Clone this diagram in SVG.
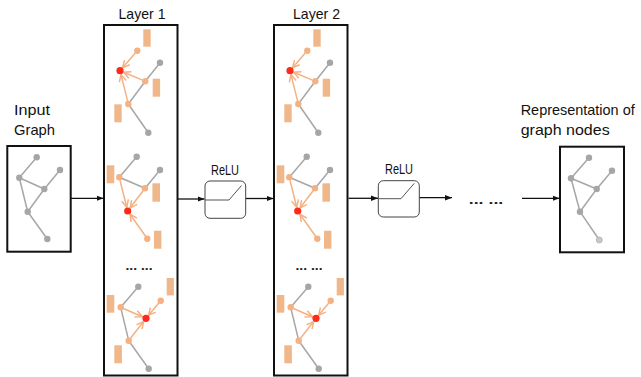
<svg xmlns="http://www.w3.org/2000/svg" width="641" height="377" viewBox="0 0 641 377">
  <style>
    .lbl { font-family: "Liberation Sans", Arial, sans-serif; font-size: 14.5px; fill: #111; }
    .dots { font-family: "Liberation Sans", sans-serif; font-weight: bold; font-size: 13px; fill: #222; }
    .frame { fill: #fff; stroke: #111; stroke-width: 2; }
    .gedge { stroke: #a6a6a6; stroke-width: 1.5; fill: none; }
    .gnode { fill: #a6a6a6; }
    .onode { fill: #f4b183; }
    .rnode { fill: #ff2a1a; }
    .feat { fill: #f0b88a; }
    .msg { stroke: #f4b183; stroke-width: 1.5; fill: none; marker-end: url(#open); }
    .link { stroke: #111; stroke-width: 1.3; fill: none; marker-end: url(#solid); }
    .relu { fill: #fff; stroke: #444; stroke-width: 1; }
    .curve { fill: none; stroke: #555; stroke-width: 1; }
  </style>
  <defs>
    <marker id="open" markerUnits="userSpaceOnUse" markerWidth="10" markerHeight="10" viewBox="0 0 10 10" refX="9" refY="5" orient="auto">
      <polyline points="2,1.5 9,5 2,8.5" fill="none" stroke="#f4b183" stroke-width="1.5"/>
    </marker>
    <marker id="solid" markerUnits="userSpaceOnUse" markerWidth="7" markerHeight="7" viewBox="0 0 7 7" refX="7" refY="3.5" orient="auto">
      <path d="M0,0.8 L7,3.5 L0,6.2 Z" fill="#111"/>
    </marker>
    <!-- one layer column: three neighbourhood-aggregation snapshots -->
    <g id="layer-body">
      <!-- snapshot 1: target node top-left -->
      <rect class="feat" x="143.3" y="29.3" width="7.4" height="17.4"/>
      <rect class="feat" x="152.7" y="78.7" width="7.4" height="18"/>
      <rect class="feat" x="114.3" y="104.3" width="7.4" height="18"/>
      <line class="gedge" x1="160" y1="62.7" x2="145.3" y2="81.3"/>
      <line class="gedge" x1="145.3" y1="81.3" x2="128.3" y2="104"/>
      <line class="gedge" x1="128.3" y1="104" x2="148.3" y2="132.7"/>
      <line class="msg" x1="135.3" y1="53" x2="122.6" y2="67.7"/>
      <line class="msg" x1="142.5" y1="80.1" x2="123.7" y2="72.2"/>
      <line class="msg" x1="127.6" y1="101.1" x2="121" y2="74.6"/>
      <circle class="onode" cx="137.3" cy="50.7" r="3.2"/>
      <circle class="gnode" cx="160" cy="62.7" r="3.2"/>
      <circle class="onode" cx="145.3" cy="81.3" r="3.2"/>
      <circle class="onode" cx="128.3" cy="104" r="3.2"/>
      <circle class="gnode" cx="148.3" cy="132.7" r="3.2"/>
      <circle class="rnode" cx="120" cy="70.7" r="3.6"/>

      <!-- snapshot 2: target node lower-middle -->
      <rect class="feat" x="106.7" y="165.3" width="7.6" height="18"/>
      <rect class="feat" x="152.4" y="183.3" width="7.6" height="18.4"/>
      <rect class="feat" x="154" y="230.7" width="7.4" height="18"/>
      <line class="gedge" x1="136.7" y1="156.7" x2="119.3" y2="177.3"/>
      <line class="gedge" x1="119.3" y1="177.3" x2="145" y2="188.3"/>
      <line class="gedge" x1="160" y1="170" x2="145" y2="188.3"/>
      <line class="msg" x1="120" y1="180.2" x2="126.7" y2="207.1"/>
      <line class="msg" x1="143.2" y1="190.7" x2="130.1" y2="207.8"/>
      <line class="msg" x1="145.6" y1="236.2" x2="130" y2="214.3"/>
      <circle class="gnode" cx="136.7" cy="156.7" r="3.2"/>
      <circle class="gnode" cx="160" cy="170" r="3.2"/>
      <circle class="onode" cx="119.3" cy="177.3" r="3.2"/>
      <circle class="onode" cx="145" cy="188.3" r="3.2"/>
      <circle class="onode" cx="147.3" cy="238.7" r="3.2"/>
      <circle class="rnode" cx="127.7" cy="211" r="3.6"/>

      <text class="dots" x="139" y="270" text-anchor="middle" textLength="27" lengthAdjust="spacingAndGlyphs">... ...</text>

      <!-- snapshot 3: target node right-middle -->
      <rect class="feat" x="166.7" y="278" width="7.2" height="17.4"/>
      <rect class="feat" x="106.7" y="295" width="7.6" height="17.7"/>
      <rect class="feat" x="114.3" y="345.3" width="7.6" height="18"/>
      <line class="gedge" x1="138.3" y1="286.7" x2="120.7" y2="307.3"/>
      <line class="gedge" x1="120.7" y1="307.3" x2="128.7" y2="340.7"/>
      <line class="gedge" x1="128.7" y1="340.7" x2="148.7" y2="368.7"/>
      <line class="msg" x1="123.5" y1="308.5" x2="142.3" y2="316.7"/>
      <line class="msg" x1="158.8" y1="303" x2="148.6" y2="315.2"/>
      <line class="msg" x1="130.5" y1="338.3" x2="143.6" y2="321.5"/>
      <circle class="gnode" cx="138.3" cy="286.7" r="3.2"/>
      <circle class="onode" cx="160.7" cy="300.7" r="3.2"/>
      <circle class="onode" cx="120.7" cy="307.3" r="3.2"/>
      <circle class="onode" cx="128.7" cy="340.7" r="3.2"/>
      <circle class="gnode" cx="148.7" cy="368.7" r="3.2"/>
      <circle class="rnode" cx="146" cy="318.3" r="3.6"/>
    </g>
  </defs>

  <!-- input graph -->
  <g id="input-graph">
    <text class="lbl" x="14" y="115" textLength="36" lengthAdjust="spacingAndGlyphs">Input</text>
    <text class="lbl" x="14" y="135" textLength="41" lengthAdjust="spacingAndGlyphs">Graph</text>
    <rect class="frame" x="7.3" y="146" width="63.4" height="105.7"/>
    <g class="gedge">
      <line x1="36.7" y1="157.3" x2="19.3" y2="177.7"/>
      <line x1="19.3" y1="177.7" x2="44.3" y2="189"/>
      <line x1="60" y1="170" x2="44.3" y2="189"/>
      <line x1="44.3" y1="189" x2="27.7" y2="211.7"/>
      <line x1="19.3" y1="177.7" x2="27.7" y2="211.7"/>
      <line x1="27.7" y1="211.7" x2="47.3" y2="239"/>
    </g>
    <g class="gnode">
      <circle cx="36.7" cy="157.3" r="3.2"/>
      <circle cx="60" cy="170" r="3.2"/>
      <circle cx="19.3" cy="177.7" r="3.2"/>
      <circle cx="44.3" cy="189" r="3.2"/>
      <circle cx="27.7" cy="211.7" r="3.2"/>
      <circle cx="47.3" cy="239" r="3.2"/>
    </g>
  </g>

  <!-- layer 1 -->
  <g id="layer-1">
    <text class="lbl" x="142" y="18.5" text-anchor="middle" textLength="47" lengthAdjust="spacingAndGlyphs">Layer 1</text>
    <rect class="frame" x="104" y="25" width="73.5" height="350.5"/>
    <use href="#layer-body"/>
  </g>

  <!-- ReLU 1 -->
  <g id="relu-1">
    <text class="lbl" x="225" y="175" text-anchor="middle" textLength="28" lengthAdjust="spacingAndGlyphs">ReLU</text>
    <rect class="relu" x="205" y="181" width="40.7" height="37.3" rx="5"/>
    <polyline class="curve" points="205,200 229,200 241.5,185.5"/>
  </g>

  <!-- layer 2 -->
  <g id="layer-2">
    <text class="lbl" x="316.5" y="18.5" text-anchor="middle" textLength="47" lengthAdjust="spacingAndGlyphs">Layer 2</text>
    <rect class="frame" x="274" y="25" width="73.5" height="350.5"/>
    <use href="#layer-body" transform="translate(170,0)"/>
  </g>

  <!-- ReLU 2 -->
  <g id="relu-2">
    <text class="lbl" x="399" y="173.5" text-anchor="middle" textLength="28" lengthAdjust="spacingAndGlyphs">ReLU</text>
    <rect class="relu" x="378.3" y="180.7" width="41" height="36.3" rx="5"/>
    <polyline class="curve" points="378.3,198.7 401,198.7 414.3,183.3"/>
  </g>

  <!-- further layers -->
  <g id="ellipsis">
    <text class="dots" x="486" y="204" text-anchor="middle" textLength="34.5" lengthAdjust="spacingAndGlyphs">... ...</text>
  </g>

  <!-- output representation -->
  <g id="output-graph">
    <text class="lbl" x="520.7" y="115" textLength="114" lengthAdjust="spacingAndGlyphs">Representation of</text>
    <text class="lbl" x="520.7" y="135" textLength="89" lengthAdjust="spacingAndGlyphs">graph nodes</text>
    <rect class="frame" x="560" y="146.7" width="64" height="105.6"/>
    <g class="gedge">
      <line x1="589" y1="157.7" x2="571" y2="178.3"/>
      <line x1="571" y1="178.3" x2="596.7" y2="189"/>
      <line x1="612" y1="170.7" x2="596.7" y2="189"/>
      <line x1="596.7" y1="189" x2="580" y2="211.7"/>
      <line x1="571" y1="178.3" x2="580" y2="211.7"/>
      <line x1="580" y1="211.7" x2="599.3" y2="240"/>
    </g>
    <g class="gnode">
      <circle cx="589" cy="157.7" r="3.2"/>
      <circle cx="612" cy="170.7" r="3.2"/>
      <circle cx="571" cy="178.3" r="3.2"/>
      <circle cx="596.7" cy="189" r="3.2"/>
      <circle cx="580" cy="211.7" r="3.2"/>
    </g>
    <circle cx="599.3" cy="240" r="3" fill="#c8c8c8" stroke="#b0b0b0" stroke-width="0.8"/>
  </g>

  <!-- connectors between stages -->
  <g id="connectors">
    <line class="link" x1="71" y1="198.3" x2="103.5" y2="198.3"/>
    <line class="link" x1="178" y1="199" x2="204.5" y2="199"/>
    <line class="link" x1="246" y1="198.5" x2="273.5" y2="198.5"/>
    <line class="link" x1="348.5" y1="198.3" x2="378" y2="198.3"/>
    <line class="link" x1="419.5" y1="197.7" x2="452" y2="197.7"/>
    <line class="link" x1="522" y1="198.3" x2="559.5" y2="198.3"/>
  </g>
</svg>
